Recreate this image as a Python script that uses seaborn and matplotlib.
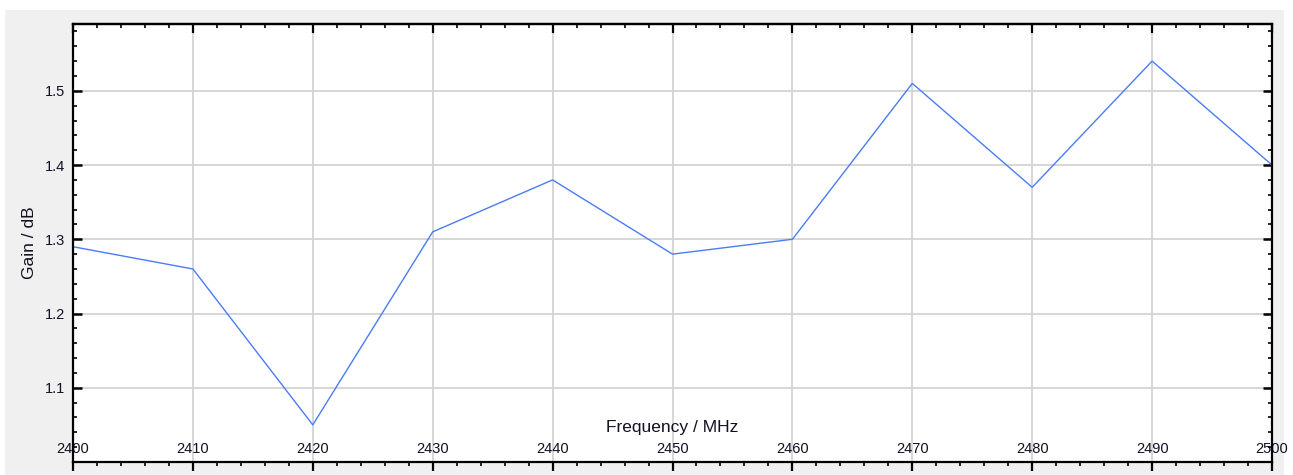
import numpy as np
import pandas as pd
import matplotlib
matplotlib.use("Agg")
import matplotlib.pyplot as plt
from matplotlib.patches import Rectangle
from matplotlib.ticker import MultipleLocator
import seaborn as sns

# ---- data ----
frequency_mhz = [2400, 2410, 2420, 2430, 2440, 2450, 2460, 2470, 2480, 2490, 2500]
gain_db = [1.29, 1.26, 1.05, 1.31, 1.38, 1.28, 1.30, 1.51, 1.37, 1.54, 1.40]
x_ticks = [2400, 2410, 2420, 2430, 2440, 2450, 2460, 2470, 2480, 2490, 2500]
y_ticks = [1.1, 1.2, 1.3, 1.4, 1.5]
x_label = "Frequency / MHz"
y_label = "Gain / dB"

df = pd.DataFrame({"freq": frequency_mhz, "gain": gain_db})

sns.set_theme(style="white")
plt.rcParams["font.family"] = ["Liberation Sans", "DejaVu Sans"]

W, H = 1293, 475
fig = plt.figure(figsize=(W / 100, H / 100), dpi=100, facecolor="white")
# gray panel background
fig.patches.append(Rectangle((5 / W, 0), (1284 - 5) / W, (H - 10) / H,
                             transform=fig.transFigure, facecolor="#f0f0f0",
                             edgecolor="none", zorder=-10))

left, right, top, bottom = 73, 1272, 24, 462
ax = fig.add_axes([left / W, (H - bottom) / H, (right - left) / W, (bottom - top) / H])
ax.set_facecolor("white")

sns.lineplot(data=df, x="freq", y="gain", ax=ax, color="#4a7cf5", linewidth=1.0)

ax.set_xlim(2400, 2500)
ax.set_ylim(1.0, 1.59)
ax.set_xticks(x_ticks)
ax.set_xticklabels([str(v) for v in x_ticks])
ax.set_yticks(y_ticks)
ax.set_yticklabels([f"{v:.1f}" for v in y_ticks])
ax.xaxis.set_minor_locator(MultipleLocator(2))
ax.yaxis.set_minor_locator(MultipleLocator(0.02))

ax.grid(True, which="major", color="#d3d3d3", linewidth=1.3)
ax.set_axisbelow(True)

for s in ax.spines.values():
    s.set_color("black")
    s.set_linewidth(1.6)
    s.set_visible(True)

tc = "#111122"
# bottom ticks outward, labels drawn inside plot area
ax.tick_params(axis="x", which="major", direction="out", length=6.5, width=1.6, color="black",
               bottom=True, top=False, labelsize=10.5, labelcolor=tc, pad=-21)
ax.tick_params(axis="x", which="minor", direction="out", length=2.8, width=1.2, color="black",
               bottom=True, top=False)
ax.tick_params(axis="y", which="major", direction="in", length=6.5, width=1.8, color="black",
               left=True, right=True, labelsize=10.5, labelcolor=tc, pad=5.5)
ax.tick_params(axis="y", which="minor", direction="in", length=2.8, width=1.2, color="black",
               left=True, right=True)

# top ticks inward via secondary axis
sec = ax.secondary_xaxis("top")
sec.set_zorder(5)
sec.set_xticks(x_ticks)
sec.xaxis.set_minor_locator(MultipleLocator(2))
sec.tick_params(axis="x", which="major", direction="in", length=6.5, width=1.6,
                color="black", labeltop=False)
sec.tick_params(axis="x", which="minor", direction="in", length=2.8, width=1.2, color="black")
sec.spines["top"].set_linewidth(1.6)
sec.spines["top"].set_color("black")

ax.set_xlabel(x_label, fontsize=12.5, color=tc)
ax.xaxis.set_label_coords(0.5, (bottom - 420) / (bottom - top))
ax.xaxis.label.set_verticalalignment("top")
ax.set_ylabel(y_label, fontsize=12.5, color=tc)
ax.yaxis.set_label_coords(-(left - 37) / (right - left), 0.5)

fig.savefig("out.png", dpi=100, facecolor=fig.get_facecolor())
